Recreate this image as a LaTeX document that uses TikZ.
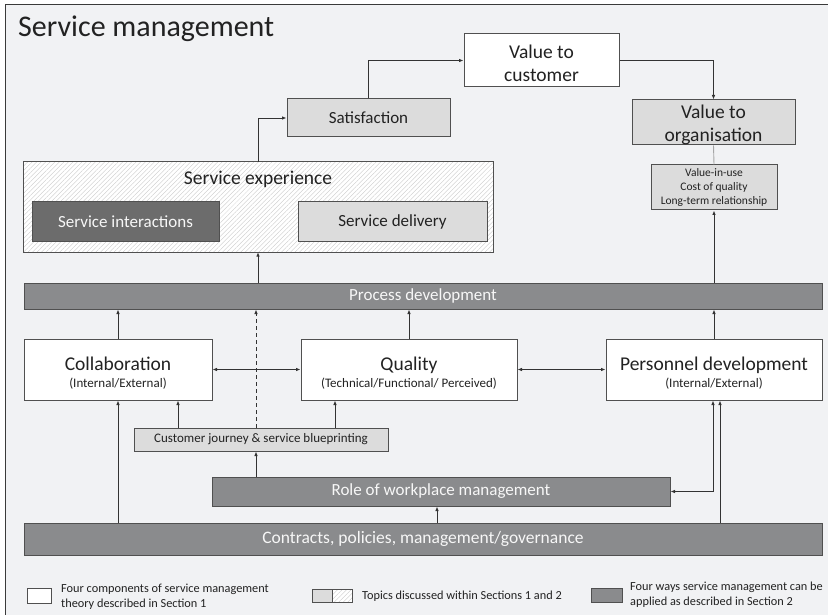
\documentclass[tikz,border=0pt]{standalone}
\usepackage{fontspec}
\setmainfont{Carlito}
\usetikzlibrary{arrows.meta,patterns.meta}
\definecolor{bg}{HTML}{F1F2F4}
\definecolor{frame}{HTML}{3A3A3A}
\definecolor{edge}{HTML}{505050}
\definecolor{midg}{HTML}{8A8B8D}
\definecolor{darkg}{HTML}{6C6C6C}
\definecolor{lightg}{HTML}{DCDCDC}
\definecolor{hatchc}{HTML}{C8C8C8}
\definecolor{txt}{HTML}{222222}
\definecolor{conn}{HTML}{333333}
\tikzset{
  box/.style={draw=edge, line width=1pt, inner sep=0pt, align=center, text=txt},
  whitebox/.style={box, fill=white},
  lightbox/.style={box, fill=lightg},
  midbox/.style={box, fill=midg, text=white!97!black},
  darkbox/.style={box, fill=darkg, text=white!97!black},
  hatchbox/.style={box, preaction={fill=white}, pattern={Lines[angle=45,distance=3.2pt,line width=0.35pt]}, pattern color=hatchc},
  arr/.style={draw=conn, line width=0.9pt, -{Latex[length=4.5pt,width=3.6pt]}},
  arrboth/.style={draw=conn, line width=0.9pt, {Latex[length=4.5pt,width=3.6pt]}-{Latex[length=4.5pt,width=3.6pt]}},
  big/.style={font=\fontsize{19.5}{23}\selectfont},
  comp/.style={font=\fontsize{19.5}{20}\selectfont},
  mid/.style={font=\fontsize{17}{20}\selectfont},
  legtxt/.style={font=\fontsize{12.3}{15}\selectfont, text=txt, align=left, inner sep=0pt},
}
\newcommand{\subt}[1]{{\fontsize{13}{15}\selectfont #1}}
\begin{document}
\begin{tikzpicture}[x=1pt,y=-1pt]
\useasboundingbox (0,0) rectangle (828,615);
\fill[white] (0,0) rectangle (828,615);
\fill[bg] (5.5,4.5) rectangle (828,615);
\draw[frame, line width=1.2pt] (5.5,615) -- (5.5,4.5) -- (828,4.5);

\node[anchor=base west, inner sep=0pt, text=txt, font=\fontsize{30}{34}\selectfont] (title) at (18,37) {Service management};

% top boxes
\node[whitebox, big, minimum width=155, minimum height=53] (vc) at (541.5,60.5) {\rule{0pt}{18.5pt}Value to\\customer};
\node[lightbox, mid, minimum width=163, minimum height=38] (sat) at (368.5,118) {Satisfaction};
\node[lightbox, big, minimum width=163, minimum height=45] (vo) at (713.5,122.5) {\rule{0pt}{18.5pt}Value to\\organisation};
\node[lightbox, font=\fontsize{11.5}{14}\selectfont, minimum width=126, minimum height=45] (viu) at (714,187.5) {Value-in-use\\Cost of quality\\Long-term relationship};

% service experience
\node[hatchbox, minimum width=470, minimum height=90] (se) at (258,207) {};
\node[inner sep=0pt, big, text=txt] (setitle) at (258,179) {Service experience};
\node[darkbox, mid, minimum width=187, minimum height=39] (si) at (125.5,221.5) {Service interactions};
\node[lightbox, mid, minimum width=189, minimum height=39] (sd) at (392.5,221.5) {Service delivery};

% bars and components
\node[midbox, mid, minimum width=798, minimum height=26] (pd) at (423,296) {Process development};
\node[whitebox, comp, minimum width=188, minimum height=61] (col) at (118,369.5) {\rule{0pt}{21pt}Collaboration\\[-3pt]\subt{(Internal/External)}};
\node[whitebox, comp, minimum width=216, minimum height=61] (qual) at (409,369.5) {\rule{0pt}{21pt}Quality\\[-3pt]\subt{(Technical/Functional/ Perceived)}};
\node[whitebox, comp, minimum width=216, minimum height=61] (pers) at (714,369.5) {\rule{0pt}{21pt}Personnel development\\[-3pt]\subt{(Internal/External)}};
\node[lightbox, font=\fontsize{13}{15}\selectfont, minimum width=254, minimum height=23] (cj) at (261,439.5) {Customer journey \& service blueprinting};
\node[midbox, mid, minimum width=458, minimum height=29] (role) at (441,491.5) {Role of workplace management};
\node[midbox, font=\fontsize{17.5}{20}\selectfont, minimum width=798, minimum height=32] (con) at (423,539) {Contracts, policies, management/governance};

% helper x positions
\coordinate (xd) at (256,0);
\coordinate (xc1) at (178,0);
\coordinate (xq1) at (335,0);
\coordinate (xr) at (437,0);
\coordinate (xp1) at (713,0);
\coordinate (xp2) at (720,0);

% connectors top
\draw[arr] (se.north) |- (sat.west);
\draw[arr] (sat.north) |- (vc.west);
\draw[arr] (vc.east) -| (vo.north);
\draw[draw=gray!70, line width=0.9pt] (vo.south) -- (viu.north);
\draw[arr] (pd.north -| viu.south) -- (viu.south);
\draw[arr] (pd.north -| se.south) -- (se.south);

% components to process development
\draw[arr] (col.north) -- (col.north |- pd.south);
\draw[arr] (qual.north) -- (qual.north |- pd.south);
\draw[arr] (pers.north) -- (pers.north |- pd.south);
\draw[arr, dash pattern=on 4pt off 3pt] (cj.north -| xd) -- (pd.south -| xd);

% horizontal double arrows
\draw[arrboth] (col.east) -- (qual.west);
\draw[arrboth] (qual.east) -- (pers.west);

% blueprint
\draw[arr] (cj.north -| xc1) -- (col.south -| xc1);
\draw[arr] (cj.north -| xq1) -- (qual.south -| xq1);
\draw[arr] (role.north -| xd) -- (cj.south -| xd);

% bottom
\draw[arr] (con.north -| col.south) -- (col.south);
\draw[arr] (con.north -| xr) -- (role.south -| xr);
\draw[arrboth] (role.east) -| (pers.south -| xp1);
\draw[arr] (con.north -| xp2) -- (pers.south -| xp2);

% legend
\node[whitebox, minimum width=24, minimum height=15] (lg1) at (39,595.5) {};
\node[legtxt, anchor=west] (lt1) at (61,596.5) {Four components of service management\\theory described in Section 1};
\node[lightbox, minimum width=20, minimum height=13] (lg2a) at (322,595.5) {};
\node[hatchbox, minimum width=20, minimum height=13] (lg2b) at (342,595.5) {};
\node[legtxt, anchor=west] (lt2) at (362,596) {Topics discussed within Sections 1 and 2};
\node[midbox, minimum width=31, minimum height=14] (lg3) at (606.5,595) {};
\node[legtxt, anchor=west] (lt3) at (630,594.5) {Four ways service management can be\\applied as described in Section 2};
\end{tikzpicture}
\end{document}
